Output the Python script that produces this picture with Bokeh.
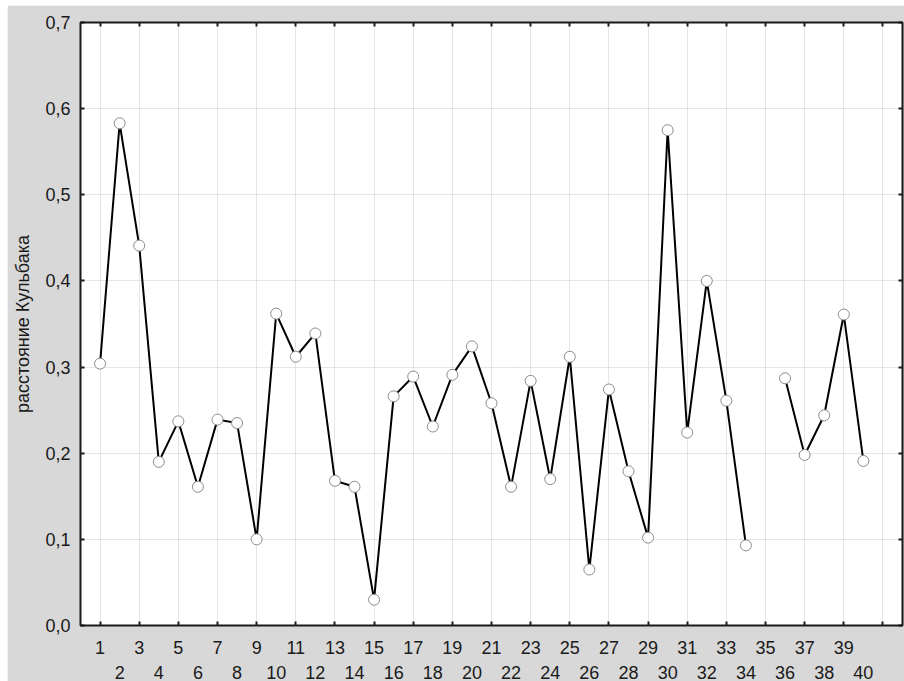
import math

from bokeh.plotting import figure
from bokeh.models import (LinearAxis, FixedTicker, CustomJSTickFormatter,
                          Range1d, ColumnDataSource)
from bokeh.embed import file_html
from bokeh.resources import INLINE

# sample numbers and Kullback distance per sample (sample 35 has no value)
samples = list(range(1, 41))
kl_distance = [0.304, 0.583, 0.441, 0.190, 0.237, 0.161, 0.239, 0.235, 0.100, 0.362,
               0.312, 0.339, 0.168, 0.161, 0.030, 0.266, 0.289, 0.231, 0.291, 0.324,
               0.258, 0.161, 0.284, 0.170, 0.312, 0.065, 0.274, 0.179, 0.102, 0.575,
               0.224, 0.400, 0.261, 0.093, math.nan, 0.287, 0.198, 0.244, 0.361, 0.191]

y_ticks = [0.0, 0.1, 0.2, 0.3, 0.4, 0.5, 0.6, 0.7]
odd_ticks = list(range(1, 42, 2))
even_ticks = list(range(2, 41, 2))

FONT = "Liberation Sans"
BG = "#d8d8d8"

src = ColumnDataSource(dict(x=samples, y=kl_distance))

p = figure(width=897, height=676, margin=(5, 0, 0, 7),
           x_range=Range1d(0, 42), y_range=Range1d(0, 0.7),
           x_axis_location=None, y_axis_location=None,
           output_backend="svg", toolbar_location=None,
           background_fill_color="white", border_fill_color=BG,
           min_border_left=73, min_border_right=2,
           min_border_top=17, min_border_bottom=56)

p.outline_line_color = "#1a1a1a"
p.outline_line_width = 2

# grid
p.xgrid.ticker = FixedTicker(ticks=odd_ticks)
p.ygrid.ticker = FixedTicker(ticks=y_ticks)
for g in (p.xgrid, p.ygrid):
    g.grid_line_color = "#cccccc"
    g.grid_line_dash = "1 1"
    g.grid_line_width = 1

comma_fmt = CustomJSTickFormatter(code="return tick.toFixed(1).replace('.', ',')")
blank_fmt = CustomJSTickFormatter(code="return ''")
odd_fmt = CustomJSTickFormatter(code="return tick > 40 ? '' : tick.toFixed(0)")


def style(ax, labels=True):
    ax.axis_line_color = None
    ax.major_tick_in = 4
    ax.major_tick_out = 0
    ax.major_tick_line_color = "#1a1a1a"
    ax.major_tick_line_width = 2
    ax.minor_tick_line_color = None
    ax.major_label_text_font = FONT
    ax.major_label_text_font_size = "18px"
    ax.major_label_text_color = "#1a1a1a"
    if not labels:
        ax.major_label_standoff = 0
        ax.major_label_text_font_size = "0px"


left = LinearAxis(ticker=FixedTicker(ticks=y_ticks), formatter=comma_fmt,
                  axis_label="расстояние Кульбака")
style(left)
left.major_label_standoff = 10
left.axis_label_standoff = 9
left.axis_label_text_font = FONT
left.axis_label_text_font_size = "18px"
left.axis_label_text_font_style = "normal"
left.axis_label_text_color = "#1a1a1a"
p.add_layout(left, "left")

right = LinearAxis(ticker=FixedTicker(ticks=y_ticks), formatter=blank_fmt)
style(right, labels=False)
p.add_layout(right, "right")

top = LinearAxis(ticker=FixedTicker(ticks=odd_ticks), formatter=blank_fmt)
style(top, labels=False)
p.add_layout(top, "above")

# two staggered rows of sample numbers
bottom_odd = LinearAxis(ticker=FixedTicker(ticks=odd_ticks), formatter=odd_fmt)
style(bottom_odd)
bottom_odd.major_label_standoff = 15
p.add_layout(bottom_odd, "below")

bottom_even = LinearAxis(ticker=FixedTicker(ticks=even_ticks))
style(bottom_even)
bottom_even.major_tick_line_color = None
bottom_even.major_tick_in = 0
bottom_even.major_label_standoff = 9
p.add_layout(bottom_even, "below")

p.line("x", "y", source=src, line_color="black", line_width=2)
p.scatter("x", "y", source=src, size=11, fill_color="white",
          line_color="#8c8c8c", line_width=1)

open("out.html", "w").write(file_html(p, INLINE))
